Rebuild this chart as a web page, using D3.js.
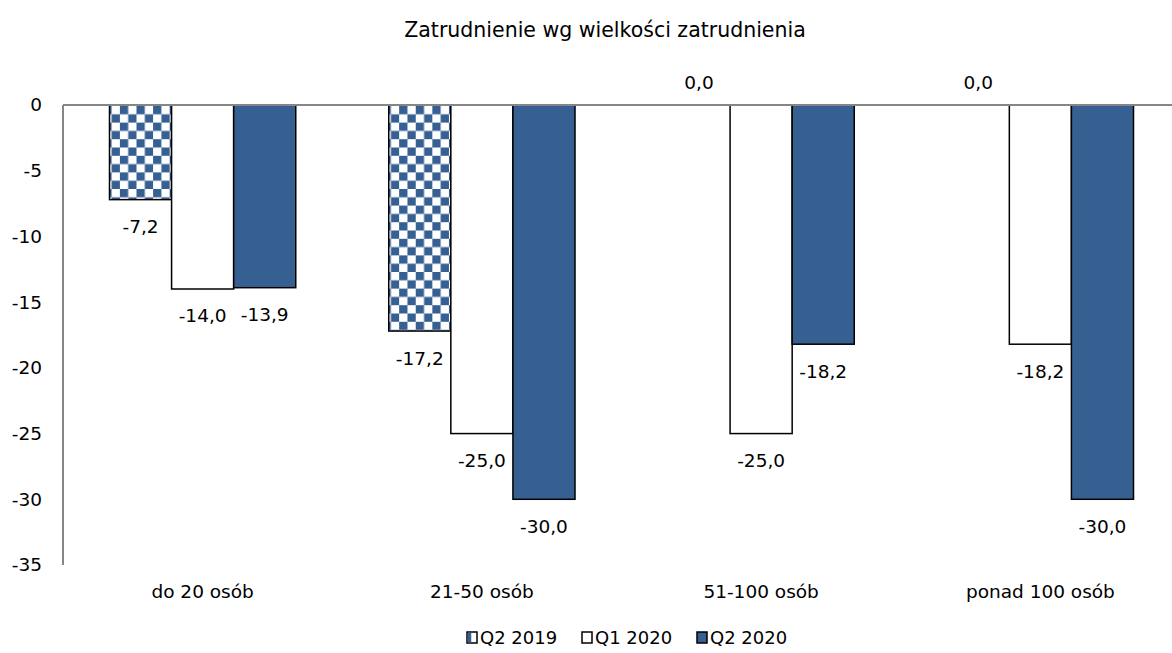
<!DOCTYPE html>
<html>
<head>
<meta charset="utf-8">
<script src="https://cdn.jsdelivr.net/npm/d3@7"></script>
<style>
  html, body { margin: 0; padding: 0; background: #fff; }
  svg { display: block; }
  text { font-family: "DejaVu Sans", sans-serif; fill: #000; }
</style>
</head>
<body>
<svg id="chart" width="1172" height="653"></svg>
<script>
const title = "Zatrudnienie wg wielkości zatrudnienia";
const categories = ["do 20 osób", "21-50 osób", "51-100 osób", "ponad 100 osób"];
const seriesNames = ["Q2 2019", "Q1 2020", "Q2 2020"];
const q2_2019 = [-7.2, -17.2, 0.0, 0.0];
const q1_2020 = [-14.0, -25.0, -25.0, -18.2];
const q2_2020 = [-13.9, -30.0, -18.2, -30.0];
const yTicks = [0, -5, -10, -15, -20, -25, -30, -35];

const seriesValues = [q2_2019, q1_2020, q2_2020];
const blue = "#376092";
const fills = ["url(#checker)", "#ffffff", blue];
const fs = 18.5;

const svg = d3.select("#chart");
const defs = svg.append("defs");
const cell = 8.3;
const pat = defs.append("pattern")
  .attr("id", "checker")
  .attr("patternUnits", "userSpaceOnUse")
  .attr("x", 110).attr("y", 106)
  .attr("width", cell * 2).attr("height", cell * 2);
pat.append("rect").attr("width", cell * 2).attr("height", cell * 2).attr("fill", "#fff");
pat.append("rect").attr("x", 0).attr("y", 0).attr("width", cell).attr("height", cell).attr("fill", blue);
pat.append("rect").attr("x", cell).attr("y", cell).attr("width", cell).attr("height", cell).attr("fill", blue);

const mLeft = 63, mRight = 1180, mTop = 105, mBottom = 565;
const x0 = d3.scaleBand().domain(categories).range([mLeft, mRight]).paddingInner(0).paddingOuter(0);
const innerW = x0.bandwidth() * 0.667;
const x1 = d3.scaleBand().domain(seriesNames).range([0, innerW]);
const y = d3.scaleLinear().domain([0, -35]).range([mTop, mBottom]);

// title
svg.append("text").attr("x", 605).attr("y", 30).attr("dy", "0.35em").attr("text-anchor", "middle")
  .attr("font-size", 20.5).text(title);

// y axis labels
svg.selectAll(".ytick").data(yTicks).enter().append("text")
  .attr("class", "ytick")
  .attr("x", 42).attr("y", d => y(d)).attr("dy", "0.35em")
  .attr("text-anchor", "end").attr("font-size", fs)
  .text(d => d === 0 ? "0" : String(d));

// bars
const groups = svg.selectAll(".grp").data(categories).enter().append("g")
  .attr("transform", c => `translate(${x0(c) + (x0.bandwidth() - innerW) / 2},0)`);

seriesNames.forEach((s, si) => {
  groups.each(function(c, ci) {
    const v = seriesValues[si][ci];
    const g = d3.select(this);
    if (v !== 0) {
      g.append("rect")
        .attr("x", x1(s)).attr("y", y(0))
        .attr("width", x1.bandwidth()).attr("height", y(v) - y(0))
        .attr("fill", fills[si]).attr("stroke", "#000").attr("stroke-width", 1.5);
    }
    const lbl = v.toFixed(1).replace(".", ",");
    g.append("text")
      .attr("x", x1(s) + x1.bandwidth() / 2)
      .attr("y", v < 0 ? y(v) + 27 : y(0) - 22)
      .attr("dy", "0.35em").attr("text-anchor", "middle").attr("font-size", fs)
      .text(lbl);
  });
});

// axes lines
svg.append("line").attr("x1", mLeft).attr("x2", 1172).attr("y1", y(0)).attr("y2", y(0))
  .attr("stroke", "#868686").attr("stroke-width", 2);
svg.append("line").attr("x1", mLeft).attr("x2", mLeft).attr("y1", y(0)).attr("y2", y(-35))
  .attr("stroke", "#868686").attr("stroke-width", 2);

// category labels
svg.selectAll(".cat").data(categories).enter().append("text")
  .attr("x", c => x0(c) + x0.bandwidth() / 2).attr("y", 592).attr("dy", "0.35em")
  .attr("text-anchor", "middle").attr("font-size", fs).text(c => c);

// legend
const legX = [467, 582, 697];
seriesNames.forEach((s, i) => {
  svg.append("rect").attr("x", legX[i]).attr("y", 632).attr("width", 10).attr("height", 11)
    .attr("fill", i === 0 ? "#fff" : fills[i]).attr("stroke", "#000").attr("stroke-width", 1.5);
  if (i === 0) {
    svg.append("rect").attr("x", legX[i] + 0.75).attr("y", 632.75).attr("width", 3.5).attr("height", 9.5).attr("fill", blue);
  }
  svg.append("text").attr("x", legX[i] + 13).attr("y", 638).attr("dy", "0.35em")
    .attr("font-size", 18).text(s);
});
</script>
</body>
</html>
